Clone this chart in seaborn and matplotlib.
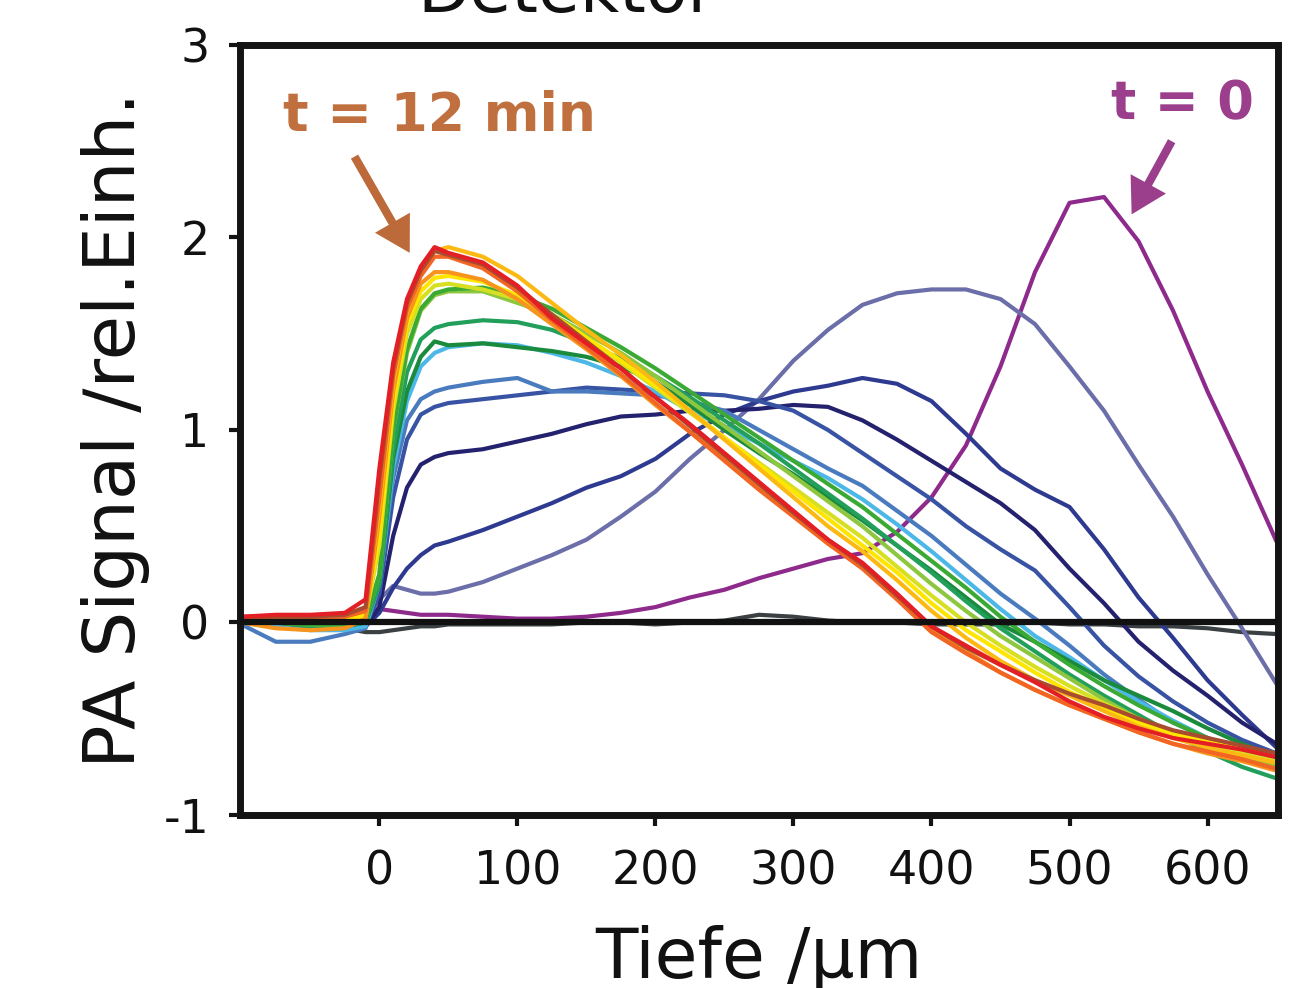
import matplotlib.pyplot as plt
import pandas as pd
import seaborn as sns

# depth grid (um) shared by all scans
depth = [-100, -75, -50, -25, -10, 0, 10, 20, 30, 40, 50,
         75, 100, 125, 150, 175, 200, 225, 250, 275, 300, 325, 350,
         375, 400, 425, 450, 475, 500, 525, 550, 575, 600, 625, 650]

# PA signal of each scan, t = 0 ... t = 12 min
sig_ref = [0.0, -0.01, -0.02, -0.03, -0.05, -0.05, -0.04, -0.03, -0.02, -0.02, -0.01,
           -0.01, -0.01, -0.01, 0.0, 0.0, -0.01, 0.0, 0.01, 0.04, 0.03, 0.01, 0.0,
           0.0, -0.01, -0.01, -0.01, 0.0, -0.01, -0.01, -0.02, -0.02, -0.03, -0.05, -0.06]
sig_t00 = [0.02, 0.02, 0.02, 0.03, 0.04, 0.07, 0.06, 0.05, 0.04, 0.04, 0.04,
           0.03, 0.02, 0.02, 0.03, 0.05, 0.08, 0.13, 0.17, 0.23, 0.28, 0.33, 0.36,
           0.47, 0.65, 0.92, 1.33, 1.82, 2.18, 2.21, 1.98, 1.62, 1.2, 0.82, 0.42]
sig_t01 = [0.0, -0.02, -0.03, -0.02, 0.0, 0.12, 0.19, 0.17, 0.15, 0.15, 0.16,
           0.21, 0.28, 0.35, 0.43, 0.55, 0.68, 0.85, 1.0, 1.16, 1.36, 1.52, 1.65,
           1.71, 1.73, 1.73, 1.68, 1.55, 1.33, 1.1, 0.82, 0.55, 0.25, -0.03, -0.32]
sig_t02 = [0.0, -0.02, -0.03, -0.03, -0.02, 0.05, 0.18, 0.28, 0.35, 0.4, 0.42,
           0.48, 0.55, 0.62, 0.7, 0.76, 0.85, 0.98, 1.08, 1.15, 1.2, 1.23, 1.27,
           1.24, 1.15, 0.98, 0.8, 0.69, 0.6, 0.38, 0.13, -0.08, -0.3, -0.48, -0.65]
sig_t03 = [0.0, -0.02, -0.03, -0.03, -0.02, 0.08, 0.45, 0.7, 0.82, 0.86, 0.88,
           0.9, 0.94, 0.98, 1.03, 1.07, 1.08, 1.1, 1.1, 1.11, 1.13, 1.12, 1.05,
           0.95, 0.84, 0.73, 0.62, 0.48, 0.28, 0.1, -0.1, -0.25, -0.38, -0.52, -0.63]
sig_t04 = [0.0, -0.02, -0.03, -0.03, -0.02, 0.15, 0.65, 0.95, 1.08, 1.12, 1.14,
           1.16, 1.18, 1.2, 1.22, 1.21, 1.2, 1.19, 1.18, 1.15, 1.1, 1.0, 0.88,
           0.76, 0.64, 0.5, 0.38, 0.27, 0.08, -0.12, -0.28, -0.41, -0.52, -0.61, -0.68]
sig_t05 = [-0.01, -0.1, -0.1, -0.06, -0.03, 0.2, 0.75, 1.05, 1.16, 1.2, 1.22,
           1.25, 1.27, 1.2, 1.2, 1.19, 1.18, 1.15, 1.1, 1.0, 0.9, 0.8, 0.71,
           0.58, 0.45, 0.3, 0.15, 0.02, -0.12, -0.27, -0.4, -0.52, -0.6, -0.67, -0.72]
sig_t06 = [0.0, -0.02, -0.04, -0.04, -0.02, 0.2, 0.8, 1.15, 1.33, 1.4, 1.43,
           1.45, 1.44, 1.4, 1.35, 1.28, 1.2, 1.1, 1.02, 0.93, 0.84, 0.75, 0.64,
           0.51, 0.37, 0.22, 0.07, -0.07, -0.18, -0.3, -0.41, -0.51, -0.6, -0.67, -0.72]
sig_t07 = [0.01, 0.0, -0.02, -0.02, 0.0, 0.2, 0.85, 1.2, 1.38, 1.46, 1.44,
           1.45, 1.43, 1.41, 1.38, 1.33, 1.25, 1.13, 1.0, 0.88, 0.77, 0.65, 0.53,
           0.4, 0.27, 0.13, -0.01, -0.1, -0.2, -0.3, -0.38, -0.46, -0.55, -0.63, -0.7]
sig_t08 = [0.01, 0.0, -0.02, -0.02, 0.0, 0.2, 0.9, 1.3, 1.47, 1.53, 1.55,
           1.57, 1.56, 1.52, 1.45, 1.37, 1.28, 1.17, 1.05, 0.93, 0.8, 0.67, 0.54,
           0.4, 0.26, 0.11, -0.03, -0.15, -0.27, -0.38, -0.48, -0.58, -0.67, -0.75, -0.81]
sig_t09 = [0.01, 0.0, -0.01, -0.01, 0.01, 0.25, 1.0, 1.4, 1.62, 1.7, 1.72,
           1.72, 1.66, 1.6, 1.5, 1.4, 1.28, 1.15, 1.02, 0.89, 0.76, 0.63, 0.5,
           0.35, 0.2, 0.06, -0.07, -0.18, -0.29, -0.4, -0.5, -0.57, -0.64, -0.7, -0.75]
sig_t10 = [0.01, 0.0, -0.01, -0.01, 0.01, 0.25, 1.0, 1.42, 1.63, 1.71, 1.73,
           1.74, 1.7, 1.63, 1.53, 1.43, 1.32, 1.2, 1.08, 0.96, 0.84, 0.72, 0.6,
           0.46, 0.32, 0.18, 0.03, -0.1, -0.22, -0.33, -0.43, -0.52, -0.6, -0.67, -0.73]
sig_t11 = [0.02, 0.01, 0.0, 0.0, 0.03, 0.4, 1.1, 1.5, 1.68, 1.75, 1.76,
           1.73, 1.68, 1.58, 1.47, 1.35, 1.22, 1.09, 0.96, 0.83, 0.7, 0.57, 0.44,
           0.29, 0.14, 0.0, -0.12, -0.23, -0.33, -0.42, -0.5, -0.57, -0.63, -0.68, -0.72]
sig_t12 = [0.02, 0.01, 0.0, 0.01, 0.04, 0.45, 1.15, 1.55, 1.72, 1.79, 1.8,
           1.77, 1.7, 1.6, 1.48, 1.36, 1.23, 1.1, 0.96, 0.82, 0.68, 0.54, 0.4,
           0.26, 0.1, -0.04, -0.15, -0.26, -0.36, -0.44, -0.52, -0.58, -0.62, -0.66, -0.68]
sig_t13 = [0.0, -0.03, -0.04, -0.03, 0.02, 0.55, 1.2, 1.58, 1.76, 1.82, 1.82,
           1.78, 1.68, 1.55, 1.42, 1.28, 1.13, 0.99, 0.85, 0.7, 0.56, 0.41, 0.29,
           0.13, -0.04, -0.15, -0.26, -0.35, -0.43, -0.5, -0.57, -0.63, -0.68, -0.72, -0.77]
sig_t14 = [0.02, 0.02, 0.02, 0.03, 0.06, 0.6, 1.25, 1.62, 1.82, 1.93, 1.95,
           1.9, 1.8, 1.66, 1.52, 1.39, 1.25, 1.1, 0.95, 0.8, 0.65, 0.5, 0.37,
           0.22, 0.06, -0.08, -0.2, -0.3, -0.38, -0.46, -0.54, -0.6, -0.65, -0.69, -0.73]
sig_t15 = [0.02, 0.02, 0.02, 0.03, 0.06, 0.65, 1.28, 1.63, 1.8, 1.9, 1.9,
           1.84, 1.72, 1.57, 1.43, 1.29, 1.14, 0.99, 0.84, 0.69, 0.55, 0.41, 0.28,
           0.12, -0.05, -0.16, -0.26, -0.35, -0.43, -0.5, -0.57, -0.63, -0.67, -0.71, -0.76]
sig_t16 = [0.03, 0.03, 0.03, 0.04, 0.08, 0.75, 1.32, 1.66, 1.83, 1.93, 1.91,
           1.86, 1.74, 1.6, 1.46, 1.32, 1.17, 1.02, 0.87, 0.72, 0.57, 0.43, 0.3,
           0.14, -0.02, -0.13, -0.22, -0.3, -0.37, -0.43, -0.5, -0.56, -0.6, -0.64, -0.68]
sig_t17 = [0.03, 0.04, 0.04, 0.05, 0.12, 0.8, 1.35, 1.68, 1.85, 1.95, 1.92,
           1.87, 1.75, 1.58, 1.45, 1.32, 1.17, 1.03, 0.88, 0.73, 0.58, 0.43, 0.31,
           0.15, -0.02, -0.12, -0.22, -0.31, -0.41, -0.49, -0.55, -0.6, -0.63, -0.66, -0.7]

scans = [sig_ref, sig_t00, sig_t01, sig_t02, sig_t03, sig_t04, sig_t05, sig_t06, sig_t07,
         sig_t08, sig_t09, sig_t10, sig_t11, sig_t12, sig_t13, sig_t14, sig_t15, sig_t16, sig_t17]
scan_colors = ["#3b4043", "#8e2a8c", "#6b6ea8", "#2e3a8f", "#24216e", "#3853a3", "#4a7bbf",
               "#4db8e8", "#1a8a3c", "#22a05b", "#8dc63f", "#3aaa35", "#d7df23", "#ffe600",
               "#f7941d", "#fdb913", "#f26522", "#a84b2f", "#e31e24"]

frames = []
for i, sig in enumerate(scans):
    frames.append(pd.DataFrame({"depth": depth, "signal": sig, "scan": i}))
df = pd.concat(frames, ignore_index=True)

sns.set_style("ticks")
plt.rcParams["font.family"] = ["DejaVu Sans"]
plt.rcParams["axes.unicode_minus"] = False
plt.rcParams["text.color"] = "#111111"
plt.rcParams["axes.labelcolor"] = "#111111"
plt.rcParams["xtick.color"] = "#111111"
plt.rcParams["ytick.color"] = "#111111"

fig = plt.figure(figsize=(12.97, 9.88), dpi=100)
ax = fig.add_axes([0.185, 0.1751, 0.8003, 0.7794])

sns.lineplot(data=df, x="depth", y="signal", hue="scan", palette=scan_colors,
             estimator=None, sort=False, legend=False, linewidth=3, ax=ax)

ax.axhline(0, color="#111111", lw=4.5, zorder=5)

ax.set_xlim(-101, 651)
ax.set_ylim(-1, 3)
ax.set_xticks([0, 100, 200, 300, 400, 500, 600])
ax.set_yticks([-1, 0, 1, 2, 3])
for sp in ax.spines.values():
    sp.set_linewidth(5)
    sp.set_color("#141414")
ax.tick_params(axis="both", direction="out", length=8, width=3, color="#141414",
               labelsize=33, labelcolor="#111111")
ax.tick_params(axis="y", pad=14)
ax.tick_params(axis="x", pad=17)

ax.set_xlabel("Tiefe /µm", fontsize=50, labelpad=22)
ax.set_ylabel("PA Signal /rel.Einh.", fontsize=52, labelpad=10)

ax.text(-70, 2.63, "t = 12 min", color="#c0703f", fontsize=38.5, fontweight="bold",
        va="center", ha="left")
ax.text(530, 2.69, "t = 0", color="#9b3f8c", fontsize=38, fontweight="bold",
        va="center", ha="left")
ax.annotate("", xy=(22, 1.92), xytext=(-18, 2.42),
            arrowprops=dict(width=6, headwidth=29, headlength=25, shrink=0,
                            color="#bd6a3b", lw=0))
ax.annotate("", xy=(545, 2.12), xytext=(574, 2.5),
            arrowprops=dict(width=6, headwidth=29, headlength=25, shrink=0,
                            color="#9b3f8c", lw=0))

fig.text(0.437, 1 - 12 / 988, "Detektor", fontsize=49, ha="center", va="baseline")

fig.savefig("out.png", dpi=100)
